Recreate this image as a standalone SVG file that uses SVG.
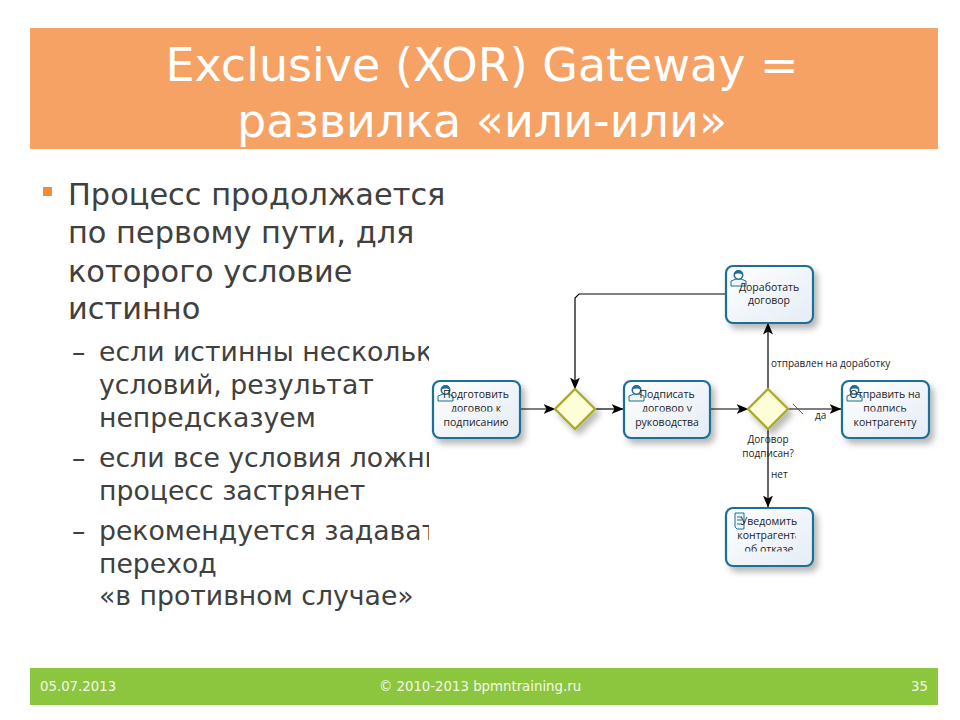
<svg xmlns="http://www.w3.org/2000/svg" width="960" height="720" viewBox="0 0 960 720">
<style>
.h{font-family:"DejaVu Sans",sans-serif;font-size:46px;fill:#fff;text-anchor:middle}
.b{font-family:"DejaVu Sans",sans-serif;font-size:30.4px;fill:#404040}
.s{font-family:"DejaVu Sans",sans-serif;font-size:26.7px;fill:#404040}
.f{font-family:"DejaVu Sans",sans-serif;font-size:13.3px;fill:#f4f8e8}
.t{font-family:"Open Sans","DejaVu Sans",sans-serif;font-size:10.5px;fill:#222;text-anchor:middle}
.l{font-family:"Open Sans","DejaVu Sans",sans-serif;font-size:10px;fill:#222}
.task{fill:url(#tg);stroke:#1f6f96;stroke-width:2.2;filter:url(#sh)}
.gw{fill:#fdfdd8;stroke:#a9ab2c;stroke-width:2.4;filter:url(#sh)}
.c{fill:none;stroke:#000;stroke-width:1.2;marker-end:url(#a)}
.ic{fill:#eef6fa;stroke:#1f6f96;stroke-width:1}
</style>
<defs>
<linearGradient id="tg" x1="0" y1="0" x2="1" y2="1"><stop offset="0" stop-color="#ffffff"/><stop offset="1" stop-color="#e4ecf6"/></linearGradient>
<filter id="sh" x="-20%" y="-20%" width="150%" height="150%"><feDropShadow dx="4" dy="5" stdDeviation="3" flood-color="#000" flood-opacity="0.28"/></filter>
<marker id="a" viewBox="0 0 12 10" refX="11.5" refY="5" markerWidth="12" markerHeight="10" markerUnits="userSpaceOnUse" orient="auto"><path d="M0 0L12 5L0 10L3 5Z" fill="#000"/></marker>
<symbol id="user" viewBox="0 0 18 18" overflow="visible"><path class="ic" d="M1 16V11L6 9H11L16 11V16Z"/><circle class="ic" cx="8.5" cy="5" r="4.2" style="fill:#fff;stroke-width:1.6"/><path d="M4.3 4.5A4.2 4.2 0 0 1 12.7 4.5Q8.5 2.5 4.3 4.5Z" fill="#1f6f96"/></symbol>
<clipPath id="c2"><rect x="420" y="400" width="520" height="11.5"/></clipPath>
<clipPath id="c5"><rect x="726" y="500" width="70" height="51.5"/></clipPath>
</defs>
<rect width="960" height="720" fill="#fff"/>
<rect x="30" y="28" width="908" height="121" fill="#f7a265"/>
<text class="h" x="482" y="81">Exclusive (XOR) Gateway =</text>
<text class="h" x="482" y="137">развилка «или-или»</text>
<rect x="43" y="187" width="9" height="9" fill="#f58a3c"/>
<g class="b">
<text x="68" y="205">Процесс продолжается</text>
<text x="68" y="243">по первому пути, для</text>
<text x="68" y="282">которого условие</text>
<text x="68" y="319">истинно</text>
</g>
<g class="s">
<text x="72" y="361">–</text>
<text x="99" y="361">если истинны несколько</text>
<text x="99" y="394">условий, результат</text>
<text x="99" y="427">непредсказуем</text>
<text x="72" y="467">–</text>
<text x="99" y="467">если все условия ложны,</text>
<text x="99" y="500">процесс застрянет</text>
<text x="72" y="540">–</text>
<text x="99" y="540">рекомендуется задавать</text>
<text x="99" y="573">переход</text>
<text x="99" y="605">«в противном случае»</text>
</g>
<rect x="429" y="335" width="130" height="285" fill="#fff"/>
<g id="connectors">
<path class="c" d="M520 409H555"/>
<path class="c" d="M595 409H623"/>
<path class="c" d="M710 409H748"/>
<path class="c" d="M788 409H841"/>
<path class="c" d="M768 389V323"/>
<path class="c" d="M768 429V507"/>
<path class="c" d="M725 294H579L575 298V389"/>
<path d="M793 404L803 414" stroke="#333" stroke-width="0.8"/>
</g>
<g id="n1"><rect class="task" x="433" y="381" width="87" height="57" rx="7"/><use href="#user" x="437" y="385" width="18" height="18"/><text class="t" x="476" y="398">Подготовить</text><text class="t" x="476" y="412" clip-path="url(#c2)">договор к</text><text class="t" x="476" y="426">подписанию</text></g>
<g id="gw1"><path class="gw" d="M575 389L595 409L575 429L555 409Z"/></g>
<g id="n2"><rect class="task" x="624" y="381" width="86" height="57" rx="7"/><use href="#user" x="628" y="385" width="18" height="18"/><text class="t" x="667" y="398">Подписать</text><text class="t" x="667" y="412" clip-path="url(#c2)">договор у</text><text class="t" x="667" y="426">руководства</text></g>
<g id="gw2"><path class="gw" d="M768 389L788 409L768 429L748 409Z"/></g>
<g id="n3"><rect class="task" x="726" y="266" width="87" height="57" rx="7"/><use href="#user" x="730" y="270" width="18" height="18"/><text class="t" x="769" y="291">Доработать</text><text class="t" x="769" y="304">договор</text></g>
<g id="n4"><rect class="task" x="842" y="381" width="87" height="57" rx="7"/><use href="#user" x="846" y="385" width="18" height="18"/><text class="t" x="885" y="398">Отправить на</text><text class="t" x="885" y="412" clip-path="url(#c2)">подпись</text><text class="t" x="885" y="426">контрагенту</text></g>
<g id="n5"><rect class="task" x="726" y="508" width="87" height="58" rx="7"/><path class="ic" d="M735 513H744V529H737L735 527Z"/><path d="M737 517H742M737 520H742M737 524H742" stroke="#1f6f96" fill="none"/><text class="t" x="769" y="525">Уведомить</text><text class="t" x="769" y="539" clip-path="url(#c5)">контрагента</text><text class="t" x="769" y="553" clip-path="url(#c5)">об отказе</text></g>
<g id="labels">
<text class="l" x="771" y="367">отправлен на доработку</text>
<text class="l" x="815" y="419">да</text>
<text class="l" x="768" y="443" text-anchor="middle">Договор</text>
<text class="l" x="768" y="457" text-anchor="middle">подписан?</text>
<text class="l" x="771" y="478">нет</text>
</g>
<rect x="30" y="668" width="908" height="37" fill="#8cc63f"/>
<text class="f" x="40" y="691">05.07.2013</text>
<text class="f" x="480" y="691" text-anchor="middle">© 2010-2013 bpmntraining.ru</text>
<text class="f" x="928" y="691" text-anchor="end">35</text>
</svg>
